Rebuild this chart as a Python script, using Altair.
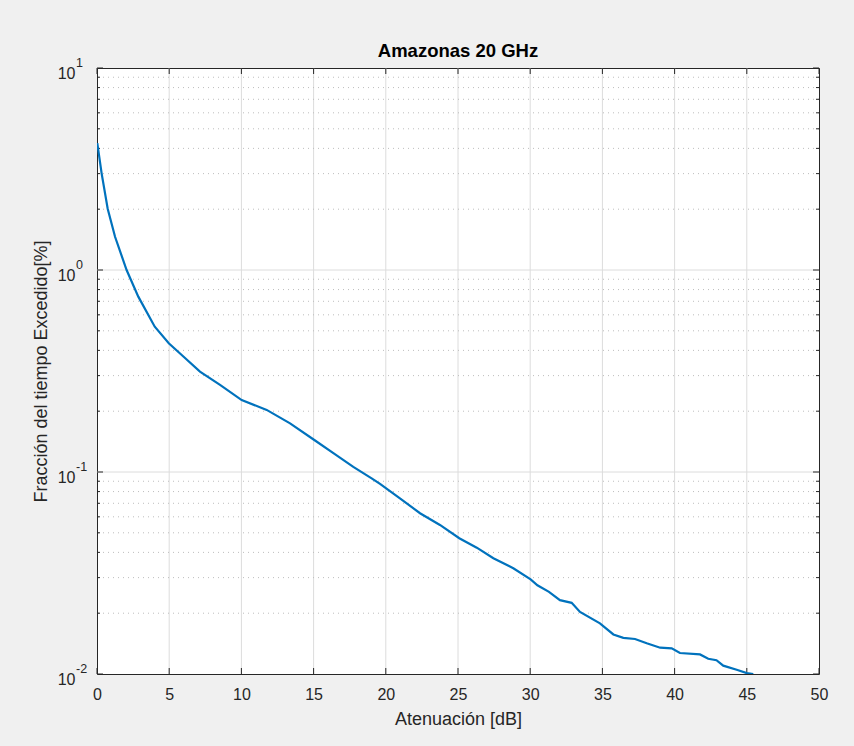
import altair as alt
import pandas as pd

# ---- data ----
atenuacion = [0.02, 0.32, 0.74, 1.25, 2.05, 2.86, 4.0, 4.97, 6.0, 7.13, 8.52, 10.02,
              11.75, 13.37, 15.05, 16.37, 17.75, 19.02, 19.6, 20.98, 22.37, 23.75,
              25.09, 26.3, 27.45, 28.83, 30.03, 30.5, 31.3, 32.06, 32.87, 33.45,
              34.83, 35.76, 36.45, 37.26, 38.07, 39.0, 39.8, 40.37, 41.76, 42.33,
              42.9, 43.37, 44.3, 45.0, 45.45]
fraccion = [4.25, 3.01, 2.01, 1.46, 1.0, 0.738, 0.524, 0.434, 0.372, 0.314, 0.270, 0.227,
            0.203, 0.174, 0.144, 0.124, 0.106, 0.093, 0.0873, 0.0741, 0.0625, 0.0547,
            0.047, 0.0422, 0.0374, 0.0334, 0.0294, 0.0275, 0.0255, 0.0232, 0.0225, 0.0203,
            0.0178, 0.0157, 0.0151, 0.0149, 0.0142, 0.0135, 0.0134, 0.0127, 0.0125, 0.0119,
            0.0117, 0.0110, 0.0105, 0.0101, 0.0100]

x_ticks = [0, 5, 10, 15, 20, 25, 30, 35, 40, 45, 50]
y_major = [0.01, 0.1, 1, 10]
y_exponents = ["-2", "-1", "0", "1"]
y_minor = [m * d for d in (0.01, 0.1, 1) for m in range(2, 10)]

W, H = 722, 606
FONT = "Liberation Sans"
TXT = "#262626"

df = pd.DataFrame({"x": atenuacion, "y": fraccion})
xs = alt.Scale(domain=[0, 50], nice=False)
ys = alt.Scale(type="log", domain=[0.01, 10], nice=False)

xgrid = alt.Chart(pd.DataFrame({"x": x_ticks[1:-1]})).mark_rule(
    color="#dcdcdc", strokeWidth=1).encode(x=alt.X("x:Q", scale=xs))
ymin = alt.Chart(pd.DataFrame({"y": y_minor})).mark_rule(
    color="#bdbdbd", strokeWidth=1, strokeDash=[1, 4]).encode(y=alt.Y("y:Q", scale=ys))
ymaj = alt.Chart(pd.DataFrame({"y": y_major[1:-1]})).mark_rule(
    color="#dcdcdc", strokeWidth=1).encode(y=alt.Y("y:Q", scale=ys))

# inward tick marks (MATLAB style box ticks)
tk = dict(color=TXT, strokeWidth=1)
ymaj_df = pd.DataFrame({"y": y_major, "e": y_exponents})
ymin_df = pd.DataFrame({"y": y_minor})
xt_df = pd.DataFrame({"x": x_ticks})
t1 = alt.Chart(ymaj_df).mark_rule(**tk).encode(y=alt.Y("y:Q", scale=ys), x=alt.value(0), x2=alt.value(6))
t2 = alt.Chart(ymaj_df).mark_rule(**tk).encode(y=alt.Y("y:Q", scale=ys), x=alt.value(W), x2=alt.value(W - 6))
t3 = alt.Chart(ymin_df).mark_rule(**tk).encode(y=alt.Y("y:Q", scale=ys), x=alt.value(0), x2=alt.value(3))
t4 = alt.Chart(ymin_df).mark_rule(**tk).encode(y=alt.Y("y:Q", scale=ys), x=alt.value(W), x2=alt.value(W - 3))
t5 = alt.Chart(xt_df).mark_rule(**tk).encode(x=alt.X("x:Q", scale=xs), y=alt.value(H), y2=alt.value(H - 6))
t6 = alt.Chart(xt_df).mark_rule(**tk).encode(x=alt.X("x:Q", scale=xs), y=alt.value(0), y2=alt.value(6))

# exponent part of the "10^n" tick labels
expo = alt.Chart(ymaj_df).mark_text(
    font=FONT, fontSize=12.5, color=TXT, align="left", baseline="middle", dy=-5
).encode(y=alt.Y("y:Q", scale=ys), x=alt.value(-21), text="e:N")

line = alt.Chart(df).mark_line(color="#0072BD", strokeWidth=2.2, clip=True).encode(
    x=alt.X("x:Q", scale=xs, title="Atenuación [dB]",
            axis=alt.Axis(values=x_ticks, grid=False, domain=False, ticks=False,
                          labelPadding=12, titlePadding=8, labelFlush=False)),
    y=alt.Y("y:Q", scale=ys, title="Fracción del tiempo Excedido[%]",
            axis=alt.Axis(values=y_major, grid=False, domain=False, ticks=False,
                          labelExpr="'10'", labelPadding=22, labelOffset=5,
                          titlePadding=7, labelFlush=False)),
    order=alt.Order("x:Q"),
)

chart = alt.layer(xgrid, ymin, ymaj, t1, t2, t3, t4, t5, t6, expo, line).properties(
    width=W, height=H,
    title=alt.TitleParams("Amazonas 20 GHz", fontSize=18.5, fontWeight="bold",
                          font=FONT, color="black", anchor="middle", frame="group",
                          baseline="alphabetic", offset=1, dy=19),
    autosize=alt.AutoSizeParams(type="none"),
    padding={"left": 97, "top": 68, "right": 35, "bottom": 72},
    background="#f0f0f0",
).configure_view(
    fill="white", stroke=TXT, strokeWidth=1,
).configure_axis(
    labelFont=FONT, titleFont=FONT, labelFontSize=16, titleFontSize=18,
    labelColor=TXT, titleColor=TXT, titleFontWeight="normal",
)

chart.save("out.html", embed_options={"renderer": "svg", "actions": False})
